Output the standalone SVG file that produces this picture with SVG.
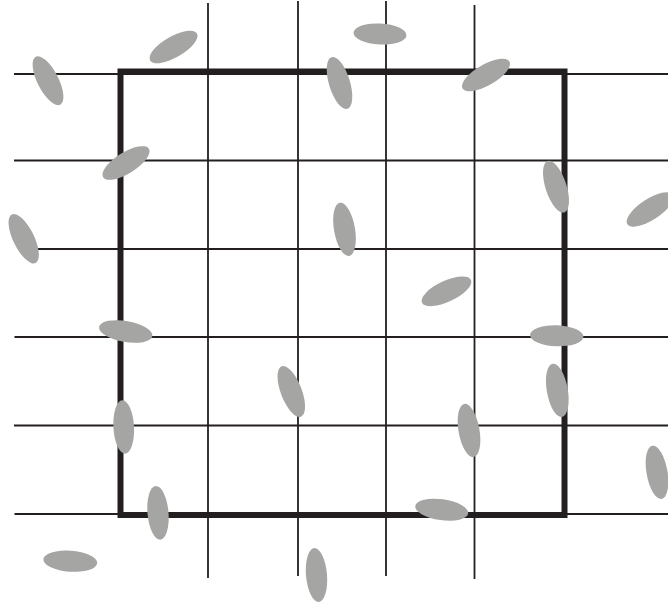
<svg xmlns="http://www.w3.org/2000/svg" width="668" height="604" viewBox="0 0 668 604">
<style>
.g{stroke:#231f20;stroke-width:1.8;fill:none}
.box{stroke:#231f20;stroke-width:6;fill:none;stroke-linejoin:miter}
.e{fill:#a5a5a4}
</style>
<rect width="668" height="604" fill="#fff"/>
<g id="grid">
<line class="g" x1="14" y1="74" x2="668" y2="74"/>
<line class="g" x1="14" y1="160.5" x2="668" y2="160.5"/>
<line class="g" x1="37" y1="249" x2="668" y2="249"/>
<line class="g" x1="14.5" y1="337" x2="668" y2="337"/>
<line class="g" x1="14" y1="425.5" x2="668" y2="425.5"/>
<line class="g" x1="14.5" y1="514" x2="668" y2="514"/>
<line class="g" x1="208" y1="3" x2="208" y2="578"/>
<line class="g" x1="298" y1="1" x2="298" y2="576"/>
<line class="g" x1="386" y1="1" x2="386" y2="576"/>
<line class="g" x1="474.5" y1="5" x2="474.5" y2="579"/>
</g>
<g id="boundary">
<rect class="box" x="120.5" y="71.5" width="444" height="443.5"/>
</g>
<g id="particles">
<ellipse class="e" cx="0" cy="0" rx="10.5" ry="27" transform="translate(48,80.7) rotate(-27)"/>
<ellipse class="e" cx="0" cy="0" rx="27" ry="10.5" transform="translate(173.5,47) rotate(-30)"/>
<ellipse class="e" cx="0" cy="0" rx="26.5" ry="10.5" transform="translate(380,34) rotate(3)"/>
<ellipse class="e" cx="0" cy="0" rx="10.5" ry="27" transform="translate(339.5,83) rotate(-17)"/>
<ellipse class="e" cx="0" cy="0" rx="27" ry="10.5" transform="translate(486,75) rotate(-30)"/>
<ellipse class="e" cx="0" cy="0" rx="27" ry="10.5" transform="translate(126,163) rotate(-32)"/>
<ellipse class="e" cx="0" cy="0" rx="10.5" ry="27" transform="translate(23.7,238.7) rotate(-26)"/>
<ellipse class="e" cx="0" cy="0" rx="10.5" ry="27" transform="translate(556,186.7) rotate(-18)"/>
<ellipse class="e" cx="0" cy="0" rx="27" ry="10.5" transform="translate(650,209.5) rotate(-33)"/>
<ellipse class="e" cx="0" cy="0" rx="10.5" ry="27" transform="translate(344.5,229.3) rotate(-10)"/>
<ellipse class="e" cx="0" cy="0" rx="27" ry="10.5" transform="translate(446.5,291.3) rotate(-25)"/>
<ellipse class="e" cx="0" cy="0" rx="27" ry="10.5" transform="translate(125.7,331.5) rotate(10)"/>
<ellipse class="e" cx="0" cy="0" rx="26.7" ry="10.5" transform="translate(556.7,335.8) rotate(2)"/>
<ellipse class="e" cx="0" cy="0" rx="10.5" ry="27" transform="translate(291.3,391.5) rotate(-21)"/>
<ellipse class="e" cx="0" cy="0" rx="10.5" ry="27" transform="translate(557.3,390.3) rotate(-10)"/>
<ellipse class="e" cx="0" cy="0" rx="10.3" ry="26.7" transform="translate(123.7,427) rotate(-3)"/>
<ellipse class="e" cx="0" cy="0" rx="10.5" ry="27" transform="translate(469,430.5) rotate(-10)"/>
<ellipse class="e" cx="0" cy="0" rx="10.5" ry="27" transform="translate(657,472.3) rotate(-10)"/>
<ellipse class="e" cx="0" cy="0" rx="10.5" ry="27" transform="translate(158,512.8) rotate(-5)"/>
<ellipse class="e" cx="0" cy="0" rx="26.7" ry="10.5" transform="translate(441.7,509.7) rotate(8)"/>
<ellipse class="e" cx="0" cy="0" rx="27" ry="10.5" transform="translate(70.3,561.2) rotate(4)"/>
<ellipse class="e" cx="0" cy="0" rx="10.5" ry="27" transform="translate(316.5,575) rotate(-5)"/>
</g>
</svg>
